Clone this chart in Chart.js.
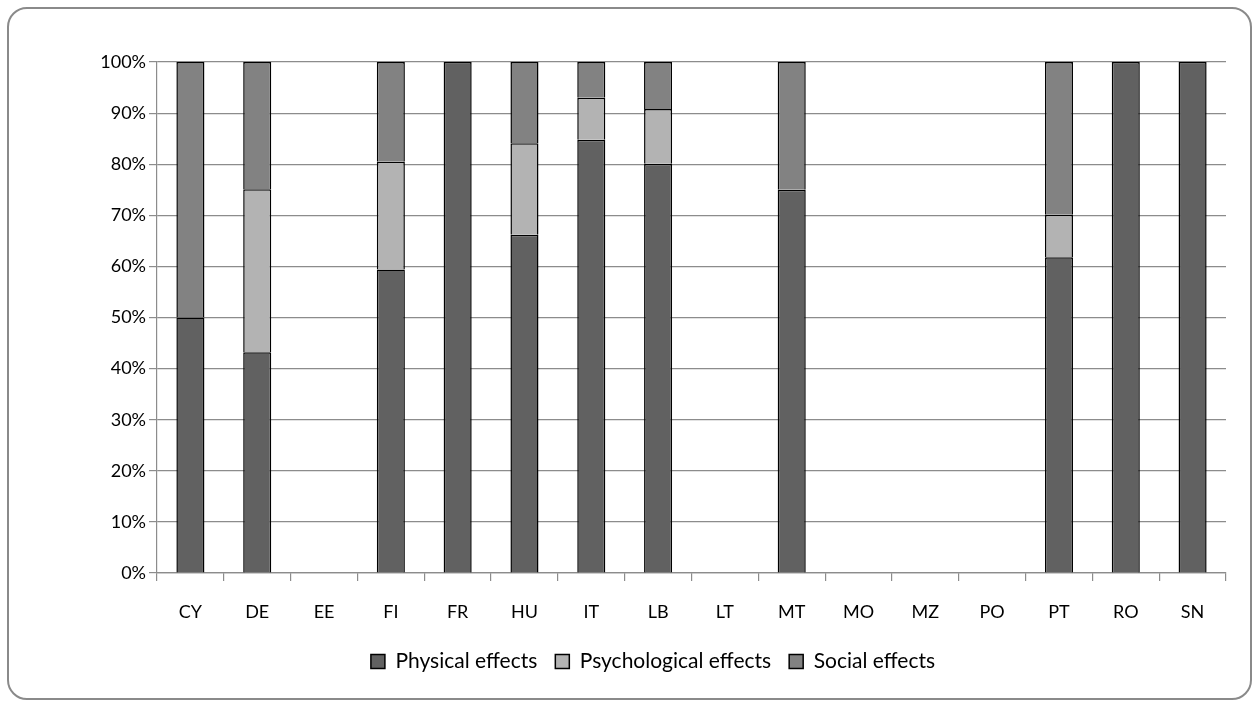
<!DOCTYPE html>
<html>
<head>
<meta charset="utf-8">
<script src="https://cdn.jsdelivr.net/npm/chart.js@4.4.1/dist/chart.umd.min.js"></script>
<style>
  html, body { margin: 0; padding: 0; background: #ffffff; }
  #wrap { position: relative; width: 1260px; height: 707px; overflow: hidden; }
  #frame { position: absolute; left: 7px; top: 7px; width: 1241px; height: 689px;
           border: 2px solid #8a8a8a; border-radius: 20px; box-sizing: content-box; }
  #c { position: absolute; left: 0; top: 0; }
</style>
</head>
<body>
<div id="wrap">
  <div id="frame"></div>
  <canvas id="c" width="1260" height="707"></canvas>
</div>
<script>
const categories = ["CY","DE","EE","FI","FR","HU","IT","LB","LT","MT","MO","MZ","PO","PT","RO","SN"];
const physical      = [50, 43.2, 0, 59.4, 100, 66.2, 84.8, 80.1, 0, 75, 0, 0, 0, 61.8, 100, 100];
const psychological = [0, 31.9, 0, 21.1, 0, 17.9, 8.2, 10.7, 0, 0, 0, 0, 0, 8.3, 0, 0];
const social        = [50, 24.9, 0, 19.5, 0, 15.9, 7.0, 9.2, 0, 25, 0, 0, 0, 29.9, 0, 0];
const seriesNames = ["Physical effects", "Psychological effects", "Social effects"];
const yTicks = [0,10,20,30,40,50,60,70,80,90,100];

const FONT = "Lato, 'Open Sans', sans-serif";
const gridColor = "#8c8c8c";

const legendShift = {
  id: "legendShift",
  afterLayout(chart) {
    const lg = chart.legend;
    if (lg) { lg.left += 40; lg.right += 40; }
  }
};

new Chart(document.getElementById("c"), {
  type: "bar",
  data: {
    labels: categories,
    datasets: [
      { label: seriesNames[0], data: physical, backgroundColor: "#616161", borderColor: "#000", borderWidth: 1.5 },
      { label: seriesNames[1], data: psychological, backgroundColor: "#b3b3b3", borderColor: "#000", borderWidth: 1.5 },
      { label: seriesNames[2], data: social, backgroundColor: "#828282", borderColor: "#000", borderWidth: 1.5 }
    ]
  },
  plugins: [legendShift],
  options: {
    responsive: false,
    animation: false,
    devicePixelRatio: 1,
    layout: { padding: { left: 0, right: 34, top: 62, bottom: 25 } },
    datasets: { bar: { categoryPercentage: 1, barPercentage: 0.42 } },
    plugins: {
      tooltip: { enabled: false },
      legend: {
        position: "bottom",
        labels: {
          font: { family: FONT, size: 21 },
          color: "#000",
          boxWidth: 14, boxHeight: 14,
          padding: 18
        }
      }
    },
    scales: {
      x: {
        stacked: true,
        afterFit(s) { s.height = 60; },
        grid: { offset: true, drawOnChartArea: false, drawTicks: true, tickLength: 8, color: gridColor, lineWidth: 1.2 },
        border: { display: true, color: gridColor, width: 1.2 },
        ticks: { font: { family: FONT, size: 18 }, color: "#000", padding: 20, maxRotation: 0, autoSkip: false }
      },
      y: {
        stacked: true,
        min: 0, max: 100,
        afterFit(s) { s.width = 157; },
        afterBuildTicks(s) { s.ticks = yTicks.map(v => ({ value: v })); },
        grid: { color: gridColor, lineWidth: 1.2, drawTicks: true, tickLength: 8 },
        border: { display: true, color: gridColor, width: 1.2 },
        ticks: { font: { family: FONT, size: 18 }, color: "#000", padding: 3, callback: v => v + "%" }
      }
    }
  }
});
</script>
</body>
</html>
